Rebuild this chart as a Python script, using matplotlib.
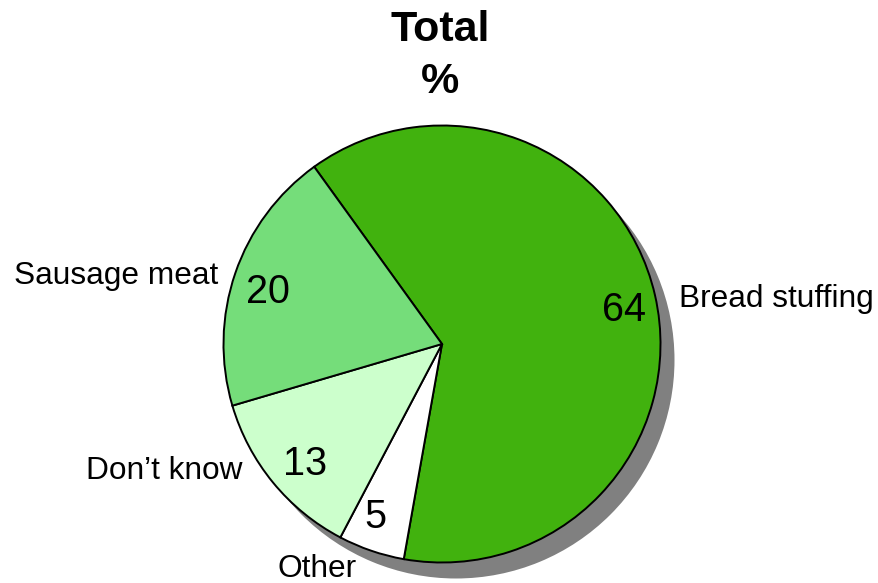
import matplotlib
matplotlib.use("Agg")
import matplotlib.pyplot as plt

categories = ["Bread stuffing", "Other", "Don\u2019t know", "Sausage meat"]
values = [64, 5, 13, 20]
colors = ["#41B20E", "#FFFFFF", "#CCFFCC", "#75DD7A"]

W, H = 879, 583
plt.rcParams['font.family'] = ['Liberation Sans', 'DejaVu Sans']

fig = plt.figure(figsize=(W / 100, H / 100), dpi=100)
ax = fig.add_axes([0, 0, 1, 1])

def px(x, y):
    return (x, H - y)

cx, cy = px(442, 344)
R = 218.5

# shadow
ax.pie([sum(values)], colors=["#808080"], radius=R, center=(cx + 14, cy - 16),
       wedgeprops=dict(linewidth=0), frame=True)
# main pie
ax.pie(values, colors=colors, radius=R, center=(cx, cy), startangle=125.8,
       counterclock=False,
       wedgeprops=dict(edgecolor="black", linewidth=1.4), frame=True)

ax.set_xlim(0, W)
ax.set_ylim(0, H)
ax.set_aspect('equal')
ax.axis('off')

# title
ax.text(*px(440, 41), "Total", ha='center', va='baseline', fontsize=31, fontweight='bold')
ax.text(*px(440, 93), "%", ha='center', va='baseline', fontsize=31, fontweight='bold')

# category labels
lab_fs = 22.8
ax.text(*px(218, 284), categories[3], ha='right', va='baseline', fontsize=lab_fs)
ax.text(*px(679, 307), categories[0], ha='left', va='baseline', fontsize=lab_fs)
ax.text(*px(243, 479), categories[2], ha='right', va='baseline', fontsize=lab_fs)
ax.text(*px(317, 577), categories[1], ha='center', va='baseline', fontsize=lab_fs)

# value labels
num_fs = 28.5
ax.text(*px(268, 303), str(values[3]), ha='center', va='baseline', fontsize=num_fs)
ax.text(*px(624, 321), str(values[0]), ha='center', va='baseline', fontsize=num_fs)
ax.text(*px(305, 475), str(values[2]), ha='center', va='baseline', fontsize=num_fs)
ax.text(*px(375, 528), str(values[1]), ha='center', va='baseline', fontsize=num_fs)

fig.savefig("out.png", dpi=100)
